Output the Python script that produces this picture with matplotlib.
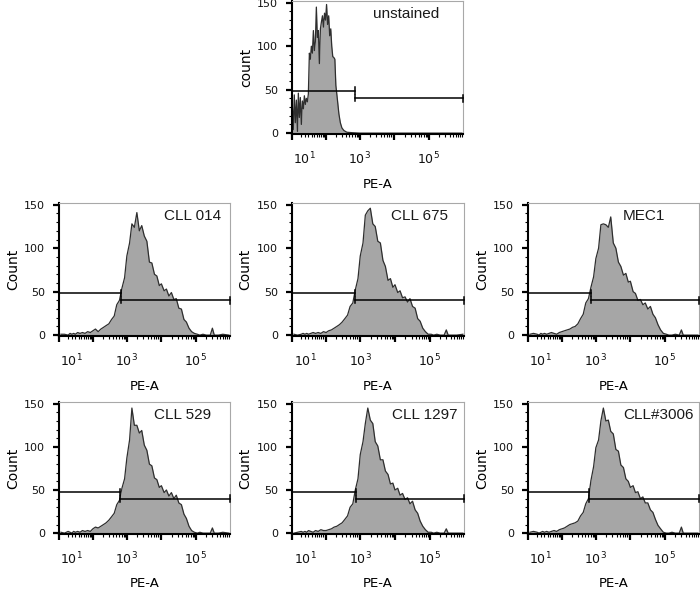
import numpy as np
import matplotlib
matplotlib.use('Agg')
import matplotlib.pyplot as plt
from matplotlib.ticker import FixedLocator, FixedFormatter

plt.rcParams['mathtext.fontset'] = 'dejavusans'
plt.rcParams['font.family'] = ['DejaVu Sans']

# ---------------- data ----------------
sample_names = ['CLL 014', 'CLL 675', 'MEC1', 'CLL 529', 'CLL 1297', 'CLL#3006']

pe_unstained = [-25, -22, -19, -16, -13, -10, -7.6, -4.9, -2.2, 0.5, 3.2, 5.9, 8.6, 11.3, 14.1, 17.0, 19.9,
                23, 26, 29.3, 32.7, 36.3, 40, 43.7, 47.8, 52, 56.6,
                61.4, 66.6, 72, 77.9, 84, 90.7, 97.7, 105, 113, 122,
                131, 141, 151, 162, 174, 187, 200, 223, 246, 271,
                301, 344, 421, 600, 1000, 3000, 10000, 100000, 900000]
count_unstained = [32, 4, 44, 12, 38, 2, 46, 18, 41, 10, 37, 28, 43, 33, 40, 36, 45,
                   92, 85, 100, 92, 118, 95, 105, 145, 110, 118,
                   80, 120, 128, 135, 122, 138, 130, 148, 125, 135,
                   112, 120, 100, 88, 87, 85, 55, 38, 22, 12,
                   6, 3, 1, 0.5, 0, 0, 0, 0, 0]

pe_grid = [-20, -10, 0, 5, 10, 15, 20, 27, 35, 44, 55, 68, 83, 100, 120, 145, 175, 210, 250, 300,
           360, 430, 510, 610, 720, 860, 1000, 1200, 1400, 1650, 1950, 2300, 2700, 3200, 3800,
           4500, 5300, 6300, 7400, 8700, 10000, 12000, 14000, 16500, 19500, 23000, 27000, 32000,
           38000, 45000, 53000, 63000, 75000, 90000, 110000, 130000, 160000, 200000, 260000,
           300000, 340000, 450000, 600000, 900000]

count_cll014 = [1, 1, 0, 2, 1, 2, 1, 3, 2, 3, 2, 4, 3, 5, 7, 4, 7, 9, 11, 13, 18,
                22, 35, 40, 54, 66, 91,
                106, 128, 124, 141, 120, 126, 114, 108, 84, 83,
                70, 68, 57, 59, 51, 53, 45, 49, 41, 42,
                31, 30, 18, 15, 8, 4, 2, 1, 0, 1,
                0, 0, 8, 0, 0, 1, 0]
count_cll675 = [1, 0, 1, 2, 1, 2, 1, 2, 3, 2, 3, 2, 4, 3, 5, 6, 8, 10, 12, 15, 19,
                23, 33, 37, 52, 65, 91,
                106, 138, 143, 146, 128, 125, 108, 106, 86, 79,
                63, 65, 55, 58, 49, 51, 43, 44, 38, 42,
                33, 31, 19, 16, 8, 4, 1, 1, 0, 1,
                0, 0, 6, 0, 0, 0, 1]
count_mec1 = [1, 2, 1, 0, 2, 1, 2, 1, 2, 3, 2, 1, 3, 4, 5, 6, 7, 9, 10, 13, 19,
              24, 37, 42, 55, 67, 88,
              100, 127, 128, 127, 124, 136, 106, 100, 84, 79,
              69, 71, 61, 62, 50, 48, 40, 41, 35, 37,
              30, 33, 24, 20, 12, 6, 2, 1, 0, 0,
              1, 0, 6, 0, 0, 0, 0]
count_cll529 = [1, 0, 2, 1, 0, 2, 1, 2, 1, 3, 2, 3, 2, 5, 7, 6, 8, 10, 12, 15, 19,
                23, 33, 38, 52, 63, 87,
                108, 145, 125, 125, 116, 119, 102, 96, 80, 78,
                64, 62, 53, 55, 47, 50, 43, 47, 40, 44,
                35, 33, 22, 17, 8, 3, 1, 0, 1, 0,
                0, 0, 6, 0, 0, 1, 0]
count_cll1297 = [0, 1, 2, 1, 2, 1, 3, 2, 1, 3, 2, 4, 3, 3, 4, 5, 7, 8, 10, 12, 16,
                 20, 30, 34, 50, 63, 91,
                 106, 127, 145, 131, 127, 106, 101, 85, 85, 72,
                 68, 57, 58, 50, 52, 44, 46, 39, 41, 34,
                 37, 27, 23, 14, 8, 4, 1, 1, 0, 1,
                 0, 0, 5, 0, 0, 0, 0]
count_cll3006 = [1, 2, 1, 0, 1, 2, 1, 2, 1, 2, 3, 2, 4, 5, 6, 8, 10, 11, 12, 14, 20,
                 24, 34, 40, 61, 77, 99,
                 108, 130, 145, 130, 131, 118, 115, 97, 95, 79,
                 76, 63, 60, 53, 55, 47, 48, 40, 42, 35,
                 35, 27, 24, 16, 9, 5, 1, 0, 0, 1,
                 0, 0, 7, 0, 0, 0, 0]

# gate boundaries (PE-A) and gate heights (count)
gate_split_unstained = 700
gate_split = [690, 720, 720, 620, 730, 650]
gate_left_y_unstained, gate_right_y_unstained = 49, 40
gate_left_y, gate_right_y = 48, 40

x_major_ticks = [-25, 1e2, 1e3, 1e4, 1e5]
x_major_labels = ['', '', '$10^{3}$', '', '$10^{5}$']
x_minor_ticks = [0, 10, 20, 30, 40, 50, 60, 70, 80, 90,
                 200, 300, 400, 500, 600, 700, 800, 900,
                 2000, 3000, 4000, 5000, 6000, 7000, 8000, 9000,
                 2e4, 3e4, 4e4, 5e4, 6e4, 7e4, 8e4, 9e4,
                 2e5, 3e5, 4e5, 5e5, 6e5, 7e5, 8e5, 9e5]
x_minor_labels = ['', '$10^{1}$'] + [''] * (len(x_minor_ticks) - 2)
y_major_ticks = [0, 50, 100, 150]
y_minor_ticks = [10, 20, 30, 40, 60, 70, 80, 90, 110, 120, 130, 140]

# ---------------- scale ----------------
W = 40.0
def fwd(x):
    return np.arcsinh(np.asarray(x, dtype=float) / W)
def inv(y):
    return W * np.sinh(np.asarray(y, dtype=float))

XMIN, XMAX = -26, 9.7e5
YMIN, YMAX = -1, 152

FW, FH = 700, 592
fig = plt.figure(figsize=(FW / 100, FH / 100), dpi=100)

def rect(l, t, r, b):
    return [l / FW, 1 - b / FH, (r - l) / FW, (b - t) / FH]

FILL = '#a6a6a6'
LINE = '#2e2e2e'

def make_panel(box, pe, cnt, name, ylab, tx, split, gl, gr):
    ax = fig.add_axes(rect(*box))
    ax.set_xscale('function', functions=(fwd, inv))
    ax.fill_between(pe, cnt, 0, color=FILL, lw=0, zorder=1)
    ax.plot(pe, cnt, color=LINE, lw=0.9, zorder=2)
    # gates
    ax.plot([XMIN, split], [gl, gl], color='black', lw=1.1, zorder=3, clip_on=False)
    ax.plot([split, XMAX], [gr, gr], color='black', lw=1.1, zorder=3, clip_on=False)
    ax.plot([split, split], [gl - 3.5, gl + 3.5], color='black', lw=1.1, zorder=3)
    ax.plot([split, split], [gr - 3.5, gr + 3.5], color='black', lw=1.1, zorder=3)
    ax.plot([XMAX, XMAX], [gr - 4, gr + 4], color='black', lw=1.1, zorder=3, clip_on=False)
    ax.set_xlim(XMIN, XMAX)
    ax.set_ylim(YMIN, YMAX)
    ax.xaxis.set_major_locator(FixedLocator(x_major_ticks))
    ax.xaxis.set_major_formatter(FixedFormatter(x_major_labels))
    ax.xaxis.set_minor_locator(FixedLocator(x_minor_ticks))
    ax.xaxis.set_minor_formatter(FixedFormatter(x_minor_labels))
    ax.yaxis.set_major_locator(FixedLocator(y_major_ticks))
    ax.yaxis.set_minor_locator(FixedLocator(y_minor_ticks))
    ax.tick_params(which='major', direction='out', length=4.5, width=1.6, labelsize=8,
                   color='black', labelcolor='#111111')
    ax.tick_params(which='minor', direction='out', length=2.5, width=0.8, labelsize=8,
                   color='black', labelcolor='#111111')
    ax.tick_params(axis='x', which='both', labelsize=9)
    ax.tick_params(axis='x', which='major', pad=7.5)
    ax.tick_params(axis='x', which='minor', pad=9.5)
    ax.tick_params(axis='y', which='major', pad=5.5)
    for s in ('left', 'bottom'):
        ax.spines[s].set_color('black')
        ax.spines[s].set_linewidth(1.5)
    for s in ('top', 'right'):
        ax.spines[s].set_color('#a8a8a8')
        ax.spines[s].set_linewidth(0.8)
    ax.set_xlabel('PE-A', fontsize=9.5, va='center')
    ax.xaxis.set_label_coords(0.5, -0.376)
    ax.set_ylabel(ylab, fontsize=10, va='center')
    ax.yaxis.set_label_coords(-0.27, 0.5)
    ax.text(tx, 0.905, name, transform=ax.transAxes, ha='center', va='center',
            fontsize=11, family=['Liberation Sans', 'DejaVu Sans'], color='#1a1a1a')
    return ax

make_panel((292, 1, 463, 134), pe_unstained, count_unstained, 'unstained', 'count', 0.67,
           gate_split_unstained, gate_left_y_unstained, gate_right_y_unstained)

counts = [count_cll014, count_cll675, count_mec1, count_cll529, count_cll1297, count_cll3006]
text_x = [0.78, 0.74, 0.68, 0.725, 0.77, 0.765]
cols = [(59, 230), (292, 464), (528, 699)]
rows = [(203, 336), (402, 534)]
for i in range(6):
    r, c = divmod(i, 3)
    l, rr = cols[c]
    t, b = rows[r]
    make_panel((l, t, rr, b), pe_grid, counts[i], sample_names[i], 'Count', text_x[i],
               gate_split[i], gate_left_y, gate_right_y)

fig.savefig('out.png', dpi=100)
